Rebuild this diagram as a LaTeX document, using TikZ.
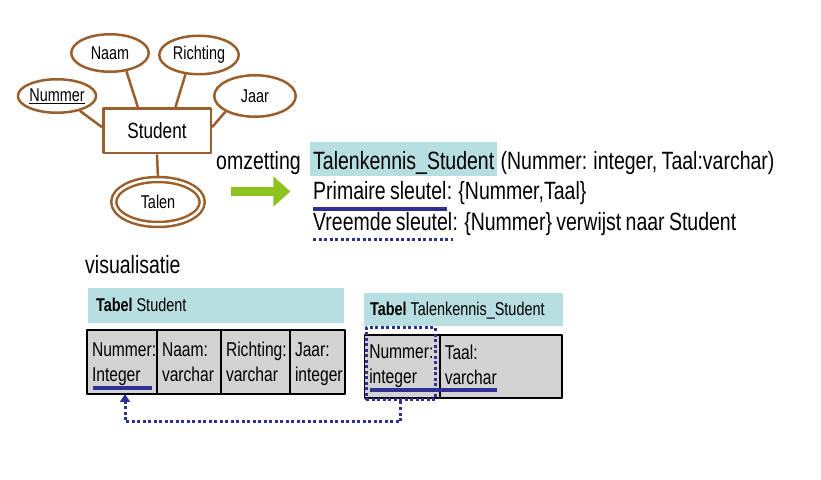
\documentclass[tikz,border=0pt]{standalone}
\usepackage{fontspec}
\setmainfont{Liberation Sans}[FakeStretch=0.78,WordSpace=0.8]
\usetikzlibrary{arrows.meta,positioning,shapes.geometric}
\definecolor{erbrown}{HTML}{9A5F2C}
\definecolor{keyblue}{HTML}{2E3192}
\definecolor{headteal}{HTML}{B7DEE0}
\definecolor{cellgray}{HTML}{D3D3D3}
\definecolor{convgreen}{HTML}{8DC21F}
\tikzset{
  every picture/.style={line join=round, >=Stealth},
  attr/.style={ellipse, draw=erbrown, line width=2.5pt, inner sep=0pt, font=\fontsize{18.5}{20}\selectfont},
  entity/.style={rectangle, draw=erbrown, line width=2.5pt, minimum width=107.5pt, minimum height=44.5pt, font=\fontsize{22}{24}\selectfont},
  erline/.style={draw=erbrown, line width=2.5pt},
  txt/.style={inner sep=0pt, anchor=base west, font=\fontsize{25}{30}\selectfont},
  tabhead/.style={fill=headteal, inner ysep=0pt, align=left, text height=13pt, text depth=0pt, font=\fontsize{18.5}{22}\selectfont},
  cell/.style={draw, line width=1.5pt, fill=cellgray, inner xsep=5pt, inner ysep=0pt, outer sep=0pt, align=left,
    font=\fontsize{20}{25}\selectfont, execute at begin node={\rule{0pt}{#1}}, execute at end node={\rule[-4pt]{0pt}{4pt}}},
  cell/.default=19pt,
  pkline/.style={draw=keyblue, line width=3.5pt},
  fkline/.style={draw=keyblue, line width=3pt, dash pattern=on 3pt off 2.5pt},
  convarrow/.style={draw=convgreen, line width=9pt, -{Triangle[length=17pt,width=29pt]}},
}

\begin{document}
\begin{tikzpicture}[x=1pt,y=1pt]
\useasboundingbox (0,0) rectangle (821,479);

% ER-schema
\node[entity] (student) at (157,348) {Student};
\node[attr, minimum width=77.5pt, minimum height=33.5pt] (nummer) at (57,383) {\underline{Nummer}};
\node[attr, minimum width=77.5pt, minimum height=37.5pt] (naam) at (110,426) {Naam};
\node[attr, minimum width=79.5pt, minimum height=38.5pt] (richting) at (199,424) {Richting};
\node[attr, minimum width=81.5pt, minimum height=41.5pt] (jaar) at (255,383) {Jaar};
\node[attr, double, double distance=2.5pt, minimum width=88.5pt, minimum height=45pt] (talen) at (158,277) {Talen};
\draw[erline] (nummer.-33) -- (student.176);
\draw[erline] (naam.-48) -- (student.129);
\draw[erline] (richting.235) -- (student.52);
\draw[erline] (jaar.208) -- (student.4);
\draw[erline] (student.south) -- (talen.north);

% omzetting
\node[txt] (omz) at (216,309) {omzetting};
\draw[convarrow] ([xshift=-27pt,yshift=-21.5pt]omz.base) -- ++(59pt,0);

\node[txt, fill=headteal, inner xsep=3pt, inner ysep=3pt, text height=25pt, text depth=3pt] (rel) at (310,309) {Talenkennis\_Student};
\node[txt] (relattr) at ([xshift=3pt]rel.base east) {(Nummer: integer, Taal:varchar)};
\node[txt] (pk) at (313,279) {Primaire sleutel};
\node[txt] (pkval) at (pk.base east) {: \{Nummer,Taal\}};
\node[txt] (fk) at (313,248) {Vreemde sleutel};
\node[txt] (fkval) at (fk.base east) {: \{Nummer\} verwijst naar Student};
\draw[pkline] ([yshift=-9pt]pk.base west) -- ([yshift=-9pt]pk.base east);
\draw[fkline] ([yshift=-9pt]fk.base west) -- ([yshift=-9pt]fk.base east);

% visualisatie
\node[txt] (vis) at (85,205) {visualisatie};

\node[tabhead, inner xsep=8pt, text width=240pt, minimum height=35pt] (headS) at (216,173.5) {\textbf{Tabel}\hspace{4pt}Student};
\node[cell, text width=60pt, minimum height=64pt] (sNummer) at (122,117) {Nummer:\\Integer};
\node[cell, text width=54pt, minimum height=64pt, right=0pt of sNummer] (sNaam) {Naam:\\varchar};
\node[cell, text width=59pt, minimum height=64pt, right=0pt of sNaam] (sRichting) {Richting:\\varchar};
\node[cell, text width=45pt, minimum height=64pt, right=0pt of sRichting] (sJaar) {Jaar:\\integer};
\draw[pkline] ([xshift=6pt,yshift=6pt]sNummer.south west) -- ([xshift=-5pt,yshift=6pt]sNummer.south east);

\node[tabhead, inner xsep=6pt, text width=187pt, minimum height=33pt] (headT) at (463.5,169.5) {\textbf{Tabel}\hspace{4pt}Talenkennis\_Student};
\node[cell=10pt, text width=65.5pt, minimum height=63pt] (tNummer) at (402,112.5) {Nummer:\\integer};
\node[cell=10pt, text width=112pt, minimum height=63pt, right=0pt of tNummer] (tTaal) {Taal:\\varchar};
\draw[pkline] ([xshift=5.5pt,yshift=8pt]tNummer.south west) -- ([xshift=57pt,yshift=8pt]tTaal.south west);

% vreemde sleutel
\node[fkline, minimum width=69pt, minimum height=72pt] (fkbox) at (400.5,115) {};
\draw[fkline, -{Triangle[length=8pt,width=10pt]}] (fkbox.south) -- ++(0,-20) -| ([xshift=3pt]sNummer.south);
\end{tikzpicture}
\end{document}
